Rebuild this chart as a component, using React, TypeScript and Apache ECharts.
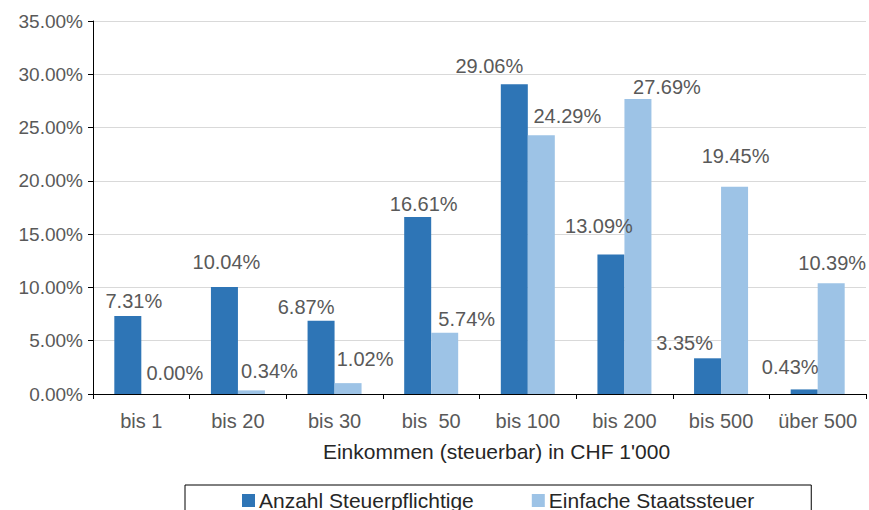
import React, { useEffect, useRef } from "react";
import * as echarts from "echarts";

const categories = ["bis 1", "bis 20", "bis 30", "bis  50", "bis 100", "bis 200", "bis 500", "über 500"];
const anzahl = [7.31, 10.04, 6.87, 16.61, 29.06, 13.09, 3.35, 0.43];
const staatssteuer = [0.0, 0.34, 1.02, 5.74, 24.29, 27.69, 19.45, 10.39];
const yTicks = { min: 0, max: 35, interval: 5 };

// label offsets (style only)
const anzahlLabelOffsets = [[6, 0], [2, -10], [-15, 1], [6, 2], [-25, -3], [-12, -13], [-23, 0], [-14, -7]];
const steuerLabelOffsets = [[20, -6], [18, -4], [17, -9], [22, 1], [26, -4], [29, 3], [1, -16], [1, -5]];

const FONT = "Liberation Sans";
const GRAY = "#595959";

export default function App() {
  const ref = useRef<HTMLDivElement>(null);
  useEffect(() => {
    if (!ref.current) return;
    const chart = echarts.init(ref.current, null, { renderer: "svg" });
    const mk = (vals: number[], offs: number[][]) =>
      vals.map((v, i) => ({ value: v, label: { offset: offs[i] } }));
    const labelStyle = {
      show: true,
      position: "top",
      fontFamily: FONT,
      fontSize: 20,
      color: GRAY,
      formatter: (p: any) => p.value.toFixed(2) + "%",
    };
    chart.setOption({
      animation: false,
      textStyle: { fontFamily: FONT },
      grid: { left: 93, right: 3, top: 21, bottom: 116, containLabel: false },
      legend: {
        left: 185,
        top: 485,
        padding: [5, 57, 5, 57],
        borderColor: "#000",
        borderWidth: 1,
        borderRadius: 0,
        itemWidth: 13,
        itemHeight: 13,
        itemGap: 58,
        icon: "rect",
        textStyle: { fontFamily: FONT, fontSize: 21, color: "#262626", padding: [0, 0, 0, -1] },
        data: ["Anzahl Steuerpflichtige", "Einfache Staatssteuer"],
      },
      xAxis: {
        type: "category",
        data: categories,
        name: "Einkommen (steuerbar) in CHF 1'000",
        nameLocation: "middle",
        nameGap: 47,
        nameTextStyle: { fontFamily: FONT, fontSize: 21, color: "#262626", padding: [0, 0, 0, 34] },
        axisLine: { lineStyle: { color: "#000", width: 1 } },
        axisTick: { show: true, length: 5, lineStyle: { color: "#000" } },
        axisLabel: { interval: 0, fontFamily: FONT, fontSize: 20, color: GRAY, margin: 17 },
      },
      yAxis: {
        type: "value",
        min: yTicks.min,
        max: yTicks.max,
        interval: yTicks.interval,
        axisLine: { show: true, lineStyle: { color: "#000", width: 1 } },
        axisTick: { show: true, length: 5, lineStyle: { color: "#000" } },
        splitLine: { lineStyle: { color: "#d9d9d9", width: 1 } },
        axisLabel: {
          fontFamily: FONT,
          fontSize: 19,
          color: GRAY,
          margin: 10,
          formatter: (v: number) => v.toFixed(2) + "%",
        },
      },
      series: [
        {
          name: "Anzahl Steuerpflichtige",
          type: "bar",
          data: mk(anzahl, anzahlLabelOffsets),
          barWidth: 27,
          barGap: "0%",
          itemStyle: { color: "#2E75B6" },
          label: labelStyle,
        },
        {
          name: "Einfache Staatssteuer",
          type: "bar",
          data: mk(staatssteuer, steuerLabelOffsets),
          barWidth: 27,
          barGap: "0%",
          itemStyle: { color: "#9DC3E6" },
          label: labelStyle,
        },
      ],
    });
    return () => chart.dispose();
  }, []);
  return <div ref={ref} style={{ width: 869, height: 510, position: "absolute", left: 0, top: 0 }} />;
}
